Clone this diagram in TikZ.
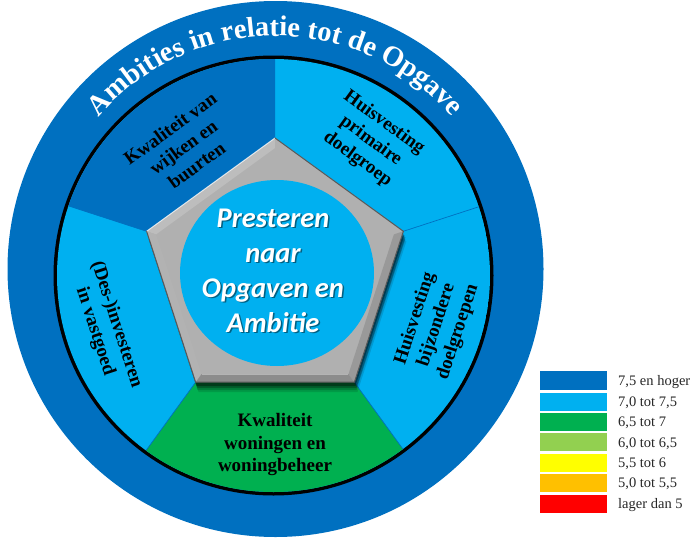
\documentclass[tikz,border=0pt]{standalone}
\usepackage{fontspec}
\setmainfont{Liberation Serif}
\newfontfamily\hubfont{Carlito}
\usetikzlibrary{calc,decorations.text}
\definecolor{ringblue}{HTML}{0070C0}
\definecolor{lightblue}{HTML}{00B0F0}
\definecolor{segreen}{HTML}{00B050}
\definecolor{lightgreen}{HTML}{92D050}
\definecolor{sunyellow}{HTML}{FFFF00}
\definecolor{amber}{HTML}{FFC000}
\definecolor{alarmred}{HTML}{FF0000}
\definecolor{pentgray}{HTML}{B0B0B0}

\begin{document}
\begin{tikzpicture}[x=1pt,y=1pt,
  segtext/.style={align=center, inner sep=0pt, font=\fontsize{19}{22.5}\selectfont\bfseries},
  hubtext/.style={align=center, inner sep=0pt, font=\hubfont\fontsize{28.5}{35}\selectfont\bfseries\itshape},
  legbox/.style={minimum width=67pt, minimum height=18pt, inner sep=0pt, draw=none},
  legtext/.style={anchor=west, inner sep=0pt, text=black!85, font=\fontsize{14.5}{16}\selectfont},
  divider/.style={draw=ringblue, line width=0.7pt}
]
\useasboundingbox (0,0) rectangle (693,-538);
\coordinate (O) at (275.5,-269);
\coordinate (D) at (273.5,-275.5);
\coordinate (P) at (275,-273);
\coordinate (H) at (277,-273);

% outer ring
\fill[ringblue] (O) circle (268);

% title along the ring
\path[decorate, decoration={text along path, text align=center, text color=white,
   text={|\fontsize{28.5}{28.5}\selectfont\bfseries|Ambities in relatie tot de Opgave}}]
   ($(O)+(180:233)$) arc[start angle=180, end angle=0, radius=233];

% inner disk with its five segments
\fill[black] (D) circle (220);
\begin{scope}
  \clip (D) circle (216.5);
  \fill[lightblue] (D) circle (217);
  \fill[ringblue] (P) -- ++(90:300) arc[start angle=90, end angle=162, radius=300] -- cycle;
  \fill[segreen] (P) -- ++(234:300) arc[start angle=234, end angle=306, radius=300] -- cycle;
  \foreach \a in {18,162,234,306}
    \draw[divider] ($(P)+(\a:135)$) -- ($(P)+(\a:300)$);
\end{scope}

% pentagon corners
\foreach \a [count=\i] in {90,162,234,306,18} {
  \coordinate (v\i) at ($(P)+(\a:135)$);
  \coordinate (w\i) at ($(P)+(\a:125)$);
}

% soft drop shadow
\foreach \dx/\dy/\op in {3/-10/0.12, 2/-8/0.18, 2/-6/0.26, 1/-4/0.36}
  \fill[black, opacity=\op] ($(v1)+(\dx,\dy)$) -- ($(v2)+(\dx,\dy)$) -- ($(v3)+(\dx,\dy)$)
     -- ($(v4)+(\dx,\dy)$) -- ($(v5)+(\dx,\dy)$) -- cycle;

% pentagon body and bevel faces
\fill[pentgray] (v1) -- (v2) -- (v3) -- (v4) -- (v5) -- cycle;
\fill[gray!52] (v1) -- (v2) -- (w2) -- (w1) -- cycle;
\fill[gray!62] (v5) -- (v1) -- (w1) -- (w5) -- cycle;
\fill[gray!80] (v4) -- (v5) -- (w5) -- (w4) -- cycle;
\fill[gray!60] (v2) -- (v3) -- (w3) -- (w2) -- cycle;
\fill[gray!90] (v3) -- (v4) -- (w4) -- (w3) -- cycle;
\draw[white, opacity=0.7, line width=1pt] (v2) -- (v1);
\draw[black!65, line width=1pt] (v1) -- (v5) -- (v4) -- (v3) -- (v2);
\draw[white, opacity=0.35, line width=0.8pt] (w3) -- (w4);

% hub
\fill[lightblue] (H) ellipse [x radius=97, y radius=93];
\node[hubtext, text=black, text opacity=0.45] (hubshade) at (274.5,-272) {Presteren\\naar\\Opgaven en\\Ambitie};
\node[hubtext, text=white] (hub) at (273,-270.5) {Presteren\\naar\\Opgaven en\\Ambitie};

% segment labels
\node[segtext, rotate=36] (seg1) at ($(P)+(126:156)$) {Kwaliteit van\\wijken en\\buurten};
\node[segtext, rotate=-36] (seg2) at ($(P)+(54:163)$) {Huisvesting\\primaire\\doelgroep};
\node[segtext, rotate=72] (seg3) at ($(P)+(-18:170)$) {Huisvesting\\bijzondere\\doelgroepen};
\node[segtext] (seg4) at ($(P)+(-90:171.5)$) {Kwaliteit\\woningen en\\woningbeheer};
\node[segtext, rotate=-72] (seg5) at ($(P)+(198:178)$) {(Des-)investeren\\in vastgoed};

% legend
\node[legbox, fill=ringblue, minimum height=19pt] (k1) at (573.5,-380.5) {};
\node[legbox, fill=lightblue] (k2) at (573.5,-401.5) {};
\node[legbox, fill=segreen] (k3) at (573.5,-421.5) {};
\node[legbox, fill=lightgreen] (k4) at (573.5,-442) {};
\node[legbox, fill=sunyellow] (k5) at (573.5,-462.5) {};
\node[legbox, fill=amber] (k6) at (573.5,-482.5) {};
\node[legbox, fill=alarmred] (k7) at (573.5,-503.5) {};
\node[legtext] (t1) at ($(k1.center)+(44.5,-1.5)$) {7,5 en hoger};
\node[legtext] (t2) at ($(k2.center)+(44.5,-1.5)$) {7,0 tot 7,5};
\node[legtext] (t3) at ($(k3.center)+(44.5,-1.5)$) {6,5 tot 7};
\node[legtext] (t4) at ($(k4.center)+(44.5,-1.5)$) {6,0 tot 6,5};
\node[legtext] (t5) at ($(k5.center)+(44.5,-1.5)$) {5,5 tot 6};
\node[legtext] (t6) at ($(k6.center)+(44.5,-1.5)$) {5,0 tot 5,5};
\node[legtext] (t7) at ($(k7.center)+(44.5,-1.5)$) {lager dan 5};
\end{tikzpicture}
\end{document}
